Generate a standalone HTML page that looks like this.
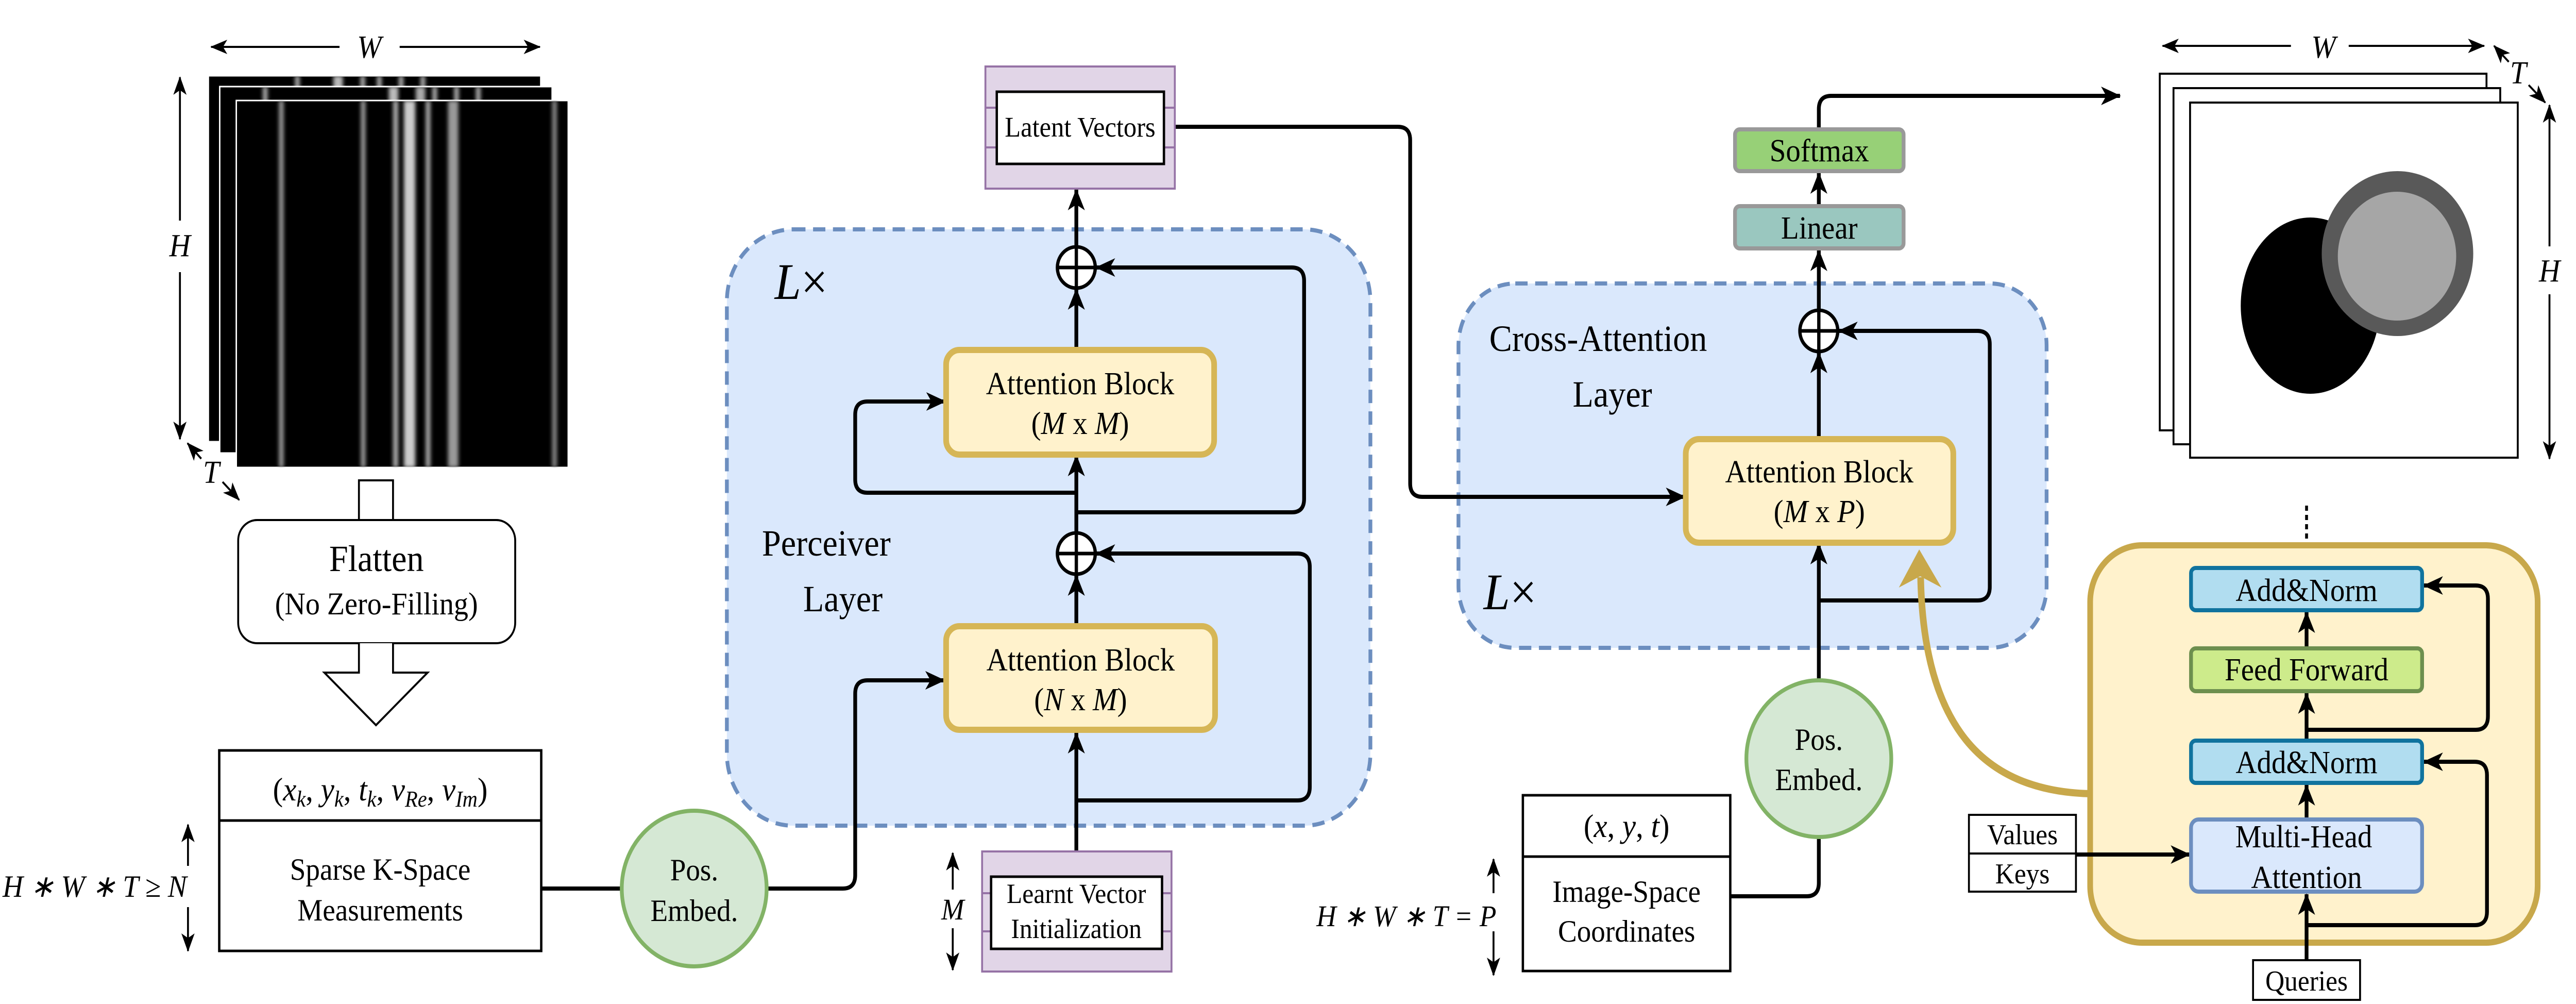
<!DOCTYPE html>
<html><head><meta charset="utf-8"><style>
html,body{margin:0;padding:0;background:#fff;width:100%;height:100%;overflow:hidden;}
svg{display:block;position:absolute;left:0;top:0;width:100vw;height:100vh;}
text{font-family:"Liberation Serif",serif;fill:#000;}
.it{font-style:italic;}
</style></head><body>
<svg viewBox="0 0 5440 1948" preserveAspectRatio="none" xmlns="http://www.w3.org/2000/svg">
<defs>
<marker id="ar" markerUnits="userSpaceOnUse" markerWidth="46" markerHeight="40" refX="40" refY="18" orient="auto">
<path d="M0,0 L42,18 L0,36 L11,18 z" fill="#000"/>
</marker>
<marker id="as" markerUnits="userSpaceOnUse" markerWidth="40" markerHeight="34" refX="34" refY="14" orient="auto">
<path d="M0,0 L36,14 L0,28 L9,14 z" fill="#000"/>
</marker>
<filter id="bl" x="-50%" y="-5%" width="200%" height="110%"><feGaussianBlur stdDeviation="4"/></filter>
<clipPath id="c1"><rect x="440" y="147" width="702" height="710"/></clipPath>
<clipPath id="c2"><rect x="464" y="168" width="702" height="711"/></clipPath>
<clipPath id="c3"><rect x="499" y="195" width="701" height="712"/></clipPath>
</defs>

<rect x="440" y="147" width="702" height="710" fill="#000" stroke="#fff" stroke-width="3"/>
<g clip-path="url(#c1)" filter="url(#bl)" fill="#aaa">
<rect x="623" y="147" width="10" height="710"/><rect x="704" y="147" width="20" height="710" fill="#bbb"/><rect x="761" y="147" width="10" height="710"/><rect x="796" y="147" width="10" height="710"/><rect x="842" y="147" width="10" height="710"/><rect x="888" y="147" width="10" height="710"/>
</g>
<rect x="464" y="168" width="702" height="711" fill="#000" stroke="#fff" stroke-width="3"/>
<g clip-path="url(#c2)" filter="url(#bl)" fill="#aaa">
<rect x="555" y="168" width="10" height="711"/><rect x="821" y="168" width="20" height="711" fill="#bbb"/><rect x="878" y="168" width="20" height="711"/><rect x="913" y="168" width="10" height="711"/><rect x="959" y="168" width="10" height="711"/><rect x="1005" y="168" width="10" height="711"/>
</g>
<rect x="499" y="195" width="701" height="712" fill="#000" stroke="#fff" stroke-width="3"/>
<g clip-path="url(#c3)" filter="url(#bl)">
<rect x="589" y="195" width="10" height="712" fill="#999"/>
<rect x="762" y="195" width="10" height="712" fill="#999"/>
<rect x="830" y="195" width="11" height="712" fill="#aaa"/>
<rect x="853" y="195" width="24" height="712" fill="#ccc"/>
<rect x="899" y="195" width="10" height="712" fill="#aaa"/>
<rect x="946" y="195" width="22" height="712" fill="#999"/>
<rect x="1166" y="195" width="10" height="712" fill="#888"/>
</g>
<g stroke="#000" stroke-width="4" fill="none">
<path d="M717,91 H446" marker-end="url(#as)"/><path d="M844,91 H1140" marker-end="url(#as)"/>
<path d="M380,428 V150" marker-end="url(#as)"/><path d="M380,528 V852" marker-end="url(#as)"/>
<path d="M425,890 L396,860" marker-end="url(#as)"/><path d="M470,935 L505,970" marker-end="url(#as)"/>
</g>
<text x="780" y="112" font-size="62" class="it" text-anchor="middle">W</text>
<text x="380" y="497" font-size="62" class="it" text-anchor="middle">H</text>
<text x="446" y="937" font-size="62" class="it" text-anchor="middle">T</text>

<path d="M758,1012 V932 H830 V1012" fill="#fff" stroke="#000" stroke-width="4"/>
<rect x="503" y="1009" width="585" height="239" rx="40" fill="#fff" stroke="#000" stroke-width="4"/>
<text x="795" y="1108" font-size="72" text-anchor="middle">Flatten</text>
<text x="795" y="1192" font-size="61" text-anchor="middle">(No Zero-Filling)</text>
<path d="M758,1248 V1305 H685 L794,1407 L903,1305 H830 V1248" fill="#fff" stroke="#000" stroke-width="4"/>

<rect x="463" y="1456" width="680" height="389" fill="#fff" stroke="#000" stroke-width="5"/>
<line x1="463" y1="1592" x2="1143" y2="1592" stroke="#000" stroke-width="5"/>
<text x="803" y="1553" font-size="64" text-anchor="middle"><tspan>(</tspan><tspan class="it">x</tspan><tspan class="it" font-size="44" dy="12">k</tspan><tspan dy="-12">, </tspan><tspan class="it">y</tspan><tspan class="it" font-size="44" dy="12">k</tspan><tspan dy="-12">, </tspan><tspan class="it">t</tspan><tspan class="it" font-size="44" dy="12">k</tspan><tspan dy="-12">, </tspan><tspan class="it">v</tspan><tspan class="it" font-size="44" dy="12">Re</tspan><tspan dy="-12">, </tspan><tspan class="it">v</tspan><tspan class="it" font-size="44" dy="12">Im</tspan><tspan dy="-12">)</tspan></text>
<text x="803" y="1707" font-size="60" text-anchor="middle">Sparse K-Space</text>
<text x="803" y="1786" font-size="60" text-anchor="middle">Measurements</text>
<text x="200" y="1740" font-size="60" class="it" text-anchor="middle">H ∗ W ∗ T ≥ N</text>
<g stroke="#000" stroke-width="4" fill="none">
<path d="M397,1680 V1600" marker-end="url(#as)"/><path d="M397,1760 V1845" marker-end="url(#as)"/>
</g>

<rect x="1535" y="445" width="1359" height="1157" rx="140" fill="#dae8fc" stroke="#6c8ebf" stroke-width="8" stroke-dasharray="26,16"/>
<text x="1636" y="580" font-size="100" class="it">L<tspan font-style="normal">×</tspan></text>
<text x="1745" y="1078" font-size="72" text-anchor="middle">Perceiver</text>
<text x="1780" y="1186" font-size="72" text-anchor="middle">Layer</text>

<rect x="3080" y="550" width="1242" height="707" rx="120" fill="#dae8fc" stroke="#6c8ebf" stroke-width="8" stroke-dasharray="26,16"/>
<text x="3375" y="681" font-size="72" text-anchor="middle">Cross-Attention</text>
<text x="3405" y="789" font-size="72" text-anchor="middle">Layer</text>
<text x="3133" y="1182" font-size="100" class="it">L<tspan font-style="normal">×</tspan></text>

<rect x="4414" y="1058" width="945" height="771" rx="110" fill="#fff2cc" stroke="#c8a84b" stroke-width="12"/>

<g stroke="#000" stroke-width="8" fill="none">
<path d="M1143,1724 H1313"/>
<path d="M1619,1724 H1780 Q1806,1724 1806,1698 V1346 Q1806,1320 1832,1320 H1994" marker-end="url(#ar)"/>
<path d="M2273,1652 V1422" marker-end="url(#ar)"/>
<path d="M2273,1553 H2740 Q2766,1553 2766,1527 V1100 Q2766,1074 2740,1074 H2315" marker-end="url(#ar)"/>
<path d="M2273,1215 V1116" marker-end="url(#ar)"/>
<path d="M2273,1034 V884" marker-end="url(#ar)"/>
<path d="M2273,956 H1832 Q1806,956 1806,930 V805 Q1806,779 1832,779 H1996" marker-end="url(#ar)"/>
<path d="M2273,994 H2728 Q2754,994 2754,968 V545 Q2754,519 2728,519 H2315" marker-end="url(#ar)"/>
<path d="M2273,679 V561" marker-end="url(#ar)"/>
<path d="M2273,479 V368" marker-end="url(#ar)"/>
<path d="M2481,246 H2952 Q2978,246 2978,272 V938 Q2978,964 3004,964 H3558" marker-end="url(#ar)"/>
<path d="M3654,1739 H3815 Q3841,1739 3841,1713 V1625"/>
<path d="M3841,1319 V1055" marker-end="url(#ar)"/>
<path d="M3841,852 V684" marker-end="url(#ar)"/>
<path d="M3841,1165 H4176 Q4202,1165 4202,1139 V668 Q4202,642 4176,642 H3883" marker-end="url(#ar)"/>
<path d="M3841,602 V486" marker-end="url(#ar)"/>
<path d="M3841,400 V336" marker-end="url(#ar)"/>
<path d="M3841,251 V212 Q3841,186 3867,186 H4477" marker-end="url(#ar)"/>
<path d="M4871,1863 V1735" marker-end="url(#ar)"/>
<path d="M4871,1795 H5226 Q5252,1795 5252,1769 V1504 Q5252,1478 5226,1478 H5119" marker-end="url(#ar)"/>
<path d="M4871,1590 V1523" marker-end="url(#ar)"/>
<path d="M4871,1437 V1345" marker-end="url(#ar)"/>
<path d="M4871,1416 H5228 Q5254,1416 5254,1390 V1162 Q5254,1136 5228,1136 H5119" marker-end="url(#ar)"/>
<path d="M4871,1258 V1188" marker-end="url(#ar)"/>
<path d="M4384,1658 H4624" marker-end="url(#ar)"/>
</g>
<path d="M4871,981 V1052" stroke="#000" stroke-width="6" stroke-dasharray="10,8"/>

<path d="M4414,1540 C4180,1535 4062,1400 4056,1120" stroke="#c8a84b" stroke-width="14" fill="none"/>
<path d="M4053,1066 L4100,1140 L4055,1118 L4010,1140 z" fill="#c8a84b"/>

<ellipse cx="1466" cy="1724" rx="153" ry="151" fill="#d5e8d4" stroke="#82b366" stroke-width="8"/>
<text x="1466" y="1708" font-size="60" text-anchor="middle">Pos.</text>
<text x="1466" y="1787" font-size="60" text-anchor="middle">Embed.</text>
<ellipse cx="3841" cy="1472" rx="153" ry="152" fill="#d5e8d4" stroke="#82b366" stroke-width="8"/>
<text x="3841" y="1455" font-size="60" text-anchor="middle">Pos.</text>
<text x="3841" y="1533" font-size="60" text-anchor="middle">Embed.</text>

<g stroke="#000" stroke-width="7" fill="#fff">
<circle cx="2273" cy="519" r="40"/><path d="M2233,519 H2313 M2273,479 V559"/>
<circle cx="2273" cy="1074" r="40"/><path d="M2233,1074 H2313 M2273,1034 V1114"/>
<circle cx="3841" cy="642" r="40"/><path d="M3801,642 H3881 M3841,602 V682"/>
</g>

<rect x="1998" y="679" width="566" height="203" rx="28" fill="#fff2cc" stroke="#d6b656" stroke-width="12"/>
<text x="2281" y="765" font-size="62" text-anchor="middle">Attention Block</text>
<text x="2281" y="842" font-size="62" text-anchor="middle">(<tspan class="it">M</tspan> x <tspan class="it">M</tspan>)</text>
<rect x="1998" y="1215" width="568" height="201" rx="28" fill="#fff2cc" stroke="#d6b656" stroke-width="12"/>
<text x="2282" y="1301" font-size="62" text-anchor="middle">Attention Block</text>
<text x="2282" y="1378" font-size="62" text-anchor="middle">(<tspan class="it">N</tspan> x <tspan class="it">M</tspan>)</text>
<rect x="3560" y="852" width="565" height="201" rx="28" fill="#fff2cc" stroke="#d6b656" stroke-width="12"/>
<text x="3842" y="936" font-size="62" text-anchor="middle">Attention Block</text>
<text x="3842" y="1013" font-size="62" text-anchor="middle">(<tspan class="it">M</tspan> x <tspan class="it">P</tspan>)</text>

<rect x="2081" y="129" width="400" height="237" fill="#e1d5e7" stroke="#9673a6" stroke-width="4"/>
<path d="M2081,209 H2105 M2081,286 H2105 M2458,209 H2481 M2458,286 H2481" stroke="#9673a6" stroke-width="4"/>
<rect x="2105" y="178" width="353" height="140" fill="#fff" stroke="#000" stroke-width="5"/>
<text x="2281" y="265" font-size="55" text-anchor="middle">Latent Vectors</text>

<rect x="2074" y="1652" width="400" height="233" fill="#e1d5e7" stroke="#9673a6" stroke-width="4"/>
<path d="M2074,1733 H2093 M2074,1807 H2093 M2454,1733 H2474 M2454,1807 H2474" stroke="#9673a6" stroke-width="4"/>
<rect x="2093" y="1701" width="361" height="140" fill="#fff" stroke="#000" stroke-width="5"/>
<text x="2273" y="1752" font-size="54" text-anchor="middle">Learnt Vector</text>
<text x="2273" y="1820" font-size="54" text-anchor="middle">Initialization</text>
<text x="2012" y="1784" font-size="58" class="it" text-anchor="middle">M</text>
<g stroke="#000" stroke-width="4" fill="none">
<path d="M2012,1726 V1655" marker-end="url(#as)"/><path d="M2012,1801 V1882" marker-end="url(#as)"/>
<path d="M3154,1733 V1667" marker-end="url(#as)"/><path d="M3154,1807 V1892" marker-end="url(#as)"/>
</g>

<rect x="3216" y="1543" width="438" height="341" fill="#fff" stroke="#000" stroke-width="5"/>
<line x1="3216" y1="1662" x2="3654" y2="1662" stroke="#000" stroke-width="5"/>
<text x="3435" y="1624" font-size="64" text-anchor="middle">(<tspan class="it">x</tspan>, <tspan class="it">y</tspan>, <tspan class="it">t</tspan>)</text>
<text x="3435" y="1750" font-size="60" text-anchor="middle">Image-Space</text>
<text x="3435" y="1827" font-size="60" text-anchor="middle">Coordinates</text>
<text x="2970" y="1797" font-size="58" class="it" text-anchor="middle">H ∗ W ∗ T = P</text>

<rect x="3664" y="251" width="356" height="81" rx="10" fill="#97d077" stroke="#999" stroke-width="8"/>
<text x="3842" y="313" font-size="62" text-anchor="middle">Softmax</text>
<rect x="3664" y="400" width="356" height="82" rx="10" fill="#9ac7bf" stroke="#999" stroke-width="8"/>
<text x="3842" y="463" font-size="62" text-anchor="middle">Linear</text>

<rect x="4561" y="143" width="690" height="692" fill="#fff" stroke="#000" stroke-width="4"/>
<rect x="4590" y="171" width="690" height="691" fill="#fff" stroke="#000" stroke-width="4"/>
<rect x="4625" y="199" width="692" height="689" fill="#fff" stroke="#000" stroke-width="4"/>
<ellipse cx="4879" cy="593" rx="147" ry="171" fill="#000"/>
<circle cx="5063" cy="492" r="160" fill="#595959"/>
<circle cx="5062" cy="497" r="125" fill="#a6a6a6"/>
<g stroke="#000" stroke-width="4" fill="none">
<path d="M4838,89 H4567" marker-end="url(#as)"/><path d="M4960,89 H5246" marker-end="url(#as)"/>
<path d="M5384,478 V204" marker-end="url(#as)"/><path d="M5384,571 V890" marker-end="url(#as)"/>
<path d="M5298,120 L5267,89" marker-end="url(#as)"/><path d="M5340,165 L5375,199" marker-end="url(#as)"/>
</g>
<text x="4907" y="112" font-size="62" class="it" text-anchor="middle">W</text>
<text x="5318" y="162" font-size="62" class="it" text-anchor="middle">T</text>
<text x="5384" y="546" font-size="62" class="it" text-anchor="middle">H</text>

<rect x="4627" y="1102" width="488" height="82" rx="10" fill="#b1ddf0" stroke="#10739e" stroke-width="8"/>
<text x="4871" y="1166" font-size="62" text-anchor="middle">Add&amp;Norm</text>
<rect x="4627" y="1258" width="488" height="83" rx="10" fill="#cdeb8b" stroke="#6d8f4e" stroke-width="8"/>
<text x="4871" y="1320" font-size="62" text-anchor="middle">Feed Forward</text>
<rect x="4627" y="1437" width="488" height="82" rx="10" fill="#b1ddf0" stroke="#10739e" stroke-width="8"/>
<text x="4871" y="1500" font-size="62" text-anchor="middle">Add&amp;Norm</text>
<rect x="4627" y="1590" width="488" height="140" rx="16" fill="#dae8fc" stroke="#6c8ebf" stroke-width="8"/>
<text x="4865" y="1644" font-size="62" text-anchor="middle">Multi-Head</text>
<text x="4871" y="1723" font-size="62" text-anchor="middle">Attention</text>
<rect x="4158" y="1581" width="226" height="149" fill="#fff" stroke="#000" stroke-width="4"/>
<line x1="4158" y1="1656" x2="4384" y2="1656" stroke="#000" stroke-width="4"/>
<text x="4271" y="1638" font-size="56" text-anchor="middle" fill="#333">Values</text>
<text x="4271" y="1714" font-size="56" text-anchor="middle" fill="#333">Keys</text>
<rect x="4758" y="1863" width="226" height="77" fill="#fff" stroke="#000" stroke-width="4"/>
<text x="4871" y="1922" font-size="56" text-anchor="middle">Queries</text>
</svg>
</body></html>
